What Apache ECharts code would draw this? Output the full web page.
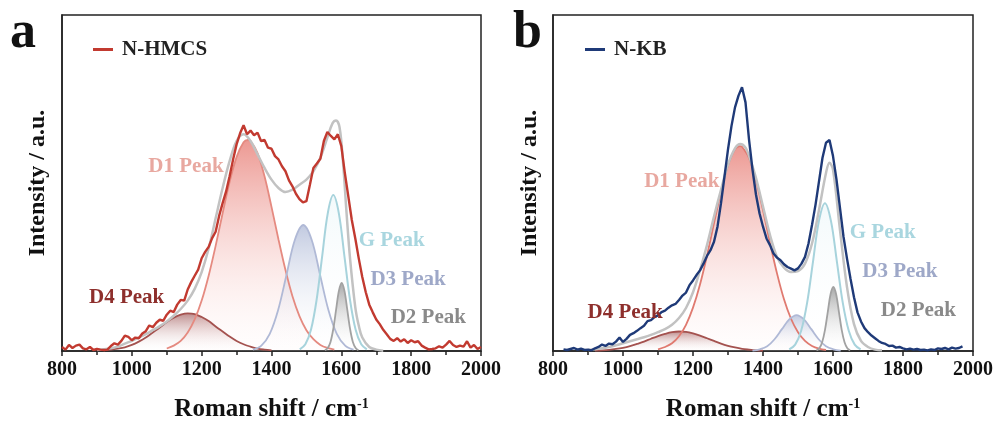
<!DOCTYPE html>
<html><head><meta charset="utf-8">
<script src="https://cdn.jsdelivr.net/npm/echarts/dist/echarts.min.js"></script>
<style>html,body{margin:0;padding:0;background:#fff}#c{width:998px;height:430px}</style>
</head><body><div id="c"></div>
<script>
// ---------- tick labels ----------
const xTicks = [800, 1000, 1200, 1400, 1600, 1800, 2000];

// ---------- panel a : N-HMCS ----------
const rawA = [[800,1.2],[810,0.4],[820,1.8],[830,0.9],[840,1.6],[850,1.9],[860,0.8],[870,0.5],[880,1.2],[890,0.3],
[900,0.6],[910,0.4],[920,0.3],[930,0.4],[940,1.5],[950,2.3],[960,1.9],[970,3.0],[980,4.6],[990,4.2],
[1000,3.2],[1010,4.0],[1020,3.8],[1030,5.2],[1040,5.9],[1050,7.6],[1060,7.1],[1070,8.4],[1080,9.3],[1090,9.0],
[1100,10.8],[1110,12.0],[1120,11.6],[1130,13.8],[1140,15.2],[1150,15.0],[1160,18.3],[1170,20.5],[1180,22.4],[1190,24.2],
[1200,27.6],[1210,29.5],[1220,31.0],[1230,33.6],[1240,35.5],[1250,40.2],[1260,44.0],[1270,47.5],[1280,52.0],[1290,57.0],
[1300,61.5],[1310,64.8],[1320,67.2],[1330,64.5],[1340,65.6],[1350,64.2],[1360,65.0],[1370,62.5],[1380,62.8],[1390,60.5],
[1400,60.2],[1410,58.0],[1420,57.0],[1430,55.0],[1440,53.5],[1450,50.8],[1460,49.0],[1470,46.8],[1480,45.2],[1490,44.2],
[1500,44.6],[1510,49.5],[1520,54.5],[1530,55.8],[1540,57.2],[1550,62.5],[1560,65.2],[1570,64.0],[1580,63.0],[1590,64.5],
[1600,61.0],[1610,53.0],[1620,46.0],[1630,39.0],[1640,33.5],[1650,27.5],[1660,22.0],[1670,17.5],[1680,13.8],[1690,11.5],
[1700,9.4],[1710,8.0],[1720,6.3],[1730,5.0],[1740,3.6],[1750,3.0],[1760,3.8],[1770,2.8],[1780,3.5],[1790,2.4],
[1800,3.2],[1810,2.6],[1820,2.9],[1830,1.6],[1840,1.0],[1850,0.5],[1860,0.6],[1870,0.8],[1880,1.4],[1890,1.0],
[1900,1.9],[1910,3.0],[1920,1.8],[1930,1.2],[1940,1.6],[1950,1.3],[1960,2.9],[1970,1.0],[1980,1.8],[1990,0.6],[2000,1.2]];

const fitA = [[900,0.3],[920,0.5],[940,0.8],[960,1.3],[980,2.2],[1000,3.0],[1020,4.0],[1040,5.0],[1060,6.2],[1080,7.4],
[1100,8.8],[1120,10.5],[1140,12.5],[1160,15.0],[1180,18.5],[1200,23.5],[1220,30.5],[1240,39.5],[1260,48.5],[1280,56.5],
[1300,62.5],[1320,64.5],[1340,62.5],[1360,58.5],[1380,54.5],[1400,51.0],[1420,48.5],[1440,47.3],[1460,48.0],[1480,49.5],
[1500,51.0],[1520,53.5],[1540,57.5],[1560,63.5],[1575,67.8],[1585,68.6],[1595,66.5],[1605,56.0],[1615,41.0],[1625,27.5],
[1640,13.0],[1650,7.5],[1660,4.0],[1680,1.2],[1700,0.4],[1720,0.1]];

const d4A = [[920,0.2],[940,0.4],[960,0.7],[980,1.1],[1000,1.8],[1020,2.8],[1040,4.0],[1060,5.5],[1080,7.0],[1100,8.6],
[1120,9.9],[1140,10.8],[1160,11.2],[1180,11.0],[1200,10.1],[1220,8.9],[1240,7.3],[1260,5.8],[1280,4.3],[1300,3.0],
[1320,2.0],[1340,1.3],[1360,0.7],[1380,0.4],[1400,0.2]];
const d1A = [[1100,0.75],[1120,1.6],[1140,3.0],[1160,5.5],[1180,9.4],[1200,15.0],[1220,22.4],[1240,31.3],[1260,41.0],[1280,50.3],
[1300,57.7],[1320,62.1],[1332,62.8],[1340,62.5],[1360,58.9],[1380,52.0],[1400,42.9],[1420,33.2],[1440,24.1],[1460,16.3],
[1480,10.4],[1500,6.2],[1520,3.5],[1540,1.8],[1560,0.9],[1580,0.4]];
const d3A = [[1347,0.4],[1371,1.6],[1395,5.1],[1419,12.2],[1443,22.7],[1467,33.1],[1491,37.5],[1515,33.1],[1539,22.7],[1563,12.2],[1587,5.1],[1611,1.6],[1635,0.4]];
const gA  = [[1481,0.5],[1497,2.0],[1513,6.3],[1529,15.1],[1545,28.1],[1561,40.9],[1577,46.4],[1593,40.9],[1609,28.1],[1625,15.1],[1641,6.3],[1657,2.0],[1673,0.5]];
const d2A = [[1553,0.2],[1561,0.9],[1569,2.7],[1577,6.6],[1585,12.3],[1593,17.9],[1601,20.3],[1609,17.9],[1617,12.3],[1625,6.6],[1633,2.7],[1641,0.9],[1649,0.2]];

// ---------- panel b : N-KB ----------
const rawB = [[830,0.5],[840,0.3],[850,0.6],[860,0.9],[870,0.4],[880,0.7],[890,0.3],
[900,0.4],[910,0.2],[920,0.8],[930,1.2],[940,1.9],[950,1.5],[960,2.2],[970,2.0],[980,2.8],[990,4.0],
[1000,2.7],[1010,3.6],[1020,4.8],[1030,5.3],[1040,6.0],[1050,6.8],[1060,7.5],[1070,8.9],[1080,9.2],[1090,10.1],
[1100,10.6],[1110,11.6],[1120,12.0],[1130,12.9],[1140,13.6],[1150,14.0],[1160,15.2],[1170,16.5],[1180,17.4],[1190,19.6],
[1200,21.0],[1210,22.6],[1220,24.0],[1230,26.0],[1240,28.3],[1250,30.0],[1260,32.5],[1270,37.0],[1280,44.0],[1290,52.0],
[1300,60.0],[1310,67.0],[1320,72.5],[1330,76.0],[1340,78.5],[1350,74.0],[1360,63.0],[1370,54.0],[1380,46.5],[1390,41.0],
[1400,37.0],[1410,33.5],[1420,31.5],[1430,29.0],[1440,27.8],[1450,27.0],[1460,25.8],[1470,25.0],[1480,24.5],[1490,24.0],
[1500,24.6],[1510,26.0],[1520,28.0],[1530,32.0],[1540,37.5],[1550,43.5],[1560,50.5],[1570,57.5],[1580,62.0],[1590,62.8],
[1600,58.0],[1610,51.0],[1620,42.5],[1630,34.0],[1640,27.5],[1650,21.5],[1660,16.0],[1670,11.5],[1680,8.8],[1690,6.8],
[1700,5.6],[1710,4.6],[1720,3.8],[1730,3.0],[1740,2.4],[1750,2.1],[1760,1.5],[1770,1.6],[1780,1.0],[1790,1.2],
[1800,0.8],[1810,0.5],[1820,0.7],[1830,0.4],[1840,0.6],[1850,0.3],[1860,0.4],[1870,0.2],[1880,0.5],[1890,0.3],
[1900,0.8],[1910,0.6],[1920,0.9],[1930,0.5],[1940,1.0],[1950,0.7],[1960,0.9],[1970,1.4]];

const fitB = [[900,0.3],[920,0.5],[940,0.8],[960,1.2],[980,1.7],[1000,2.3],[1020,2.9],[1040,3.5],[1060,4.1],[1080,4.8],
[1100,5.6],[1120,6.5],[1140,7.8],[1160,9.8],[1180,12.8],[1200,17.5],[1220,24.0],[1240,31.5],[1260,40.0],[1280,48.0],
[1300,55.5],[1320,60.3],[1335,61.6],[1350,60.5],[1365,56.5],[1380,51.5],[1400,43.0],[1420,34.5],[1440,28.0],[1460,24.8],
[1480,23.5],[1500,23.8],[1520,26.0],[1540,32.0],[1560,42.0],[1580,53.0],[1590,56.0],[1600,54.0],[1620,36.0],[1640,19.0],
[1660,8.0],[1680,3.0],[1700,1.2],[1720,0.4],[1740,0.2]];

const d4B = [[920,0.1],[940,0.2],[960,0.35],[980,0.6],[1000,0.95],[1020,1.45],[1040,2.1],[1060,2.8],[1080,3.65],[1100,4.45],
[1120,5.1],[1140,5.6],[1160,5.8],[1180,5.7],[1200,5.25],[1220,4.6],[1240,3.8],[1260,3.0],[1280,2.2],[1300,1.55],
[1320,1.05],[1340,0.65],[1360,0.4],[1380,0.2],[1400,0.1]];
const d1B = [[1100,0.5],[1120,1.2],[1140,2.3],[1160,4.4],[1180,7.8],[1200,12.9],[1220,19.8],[1240,28.4],[1260,38.0],[1280,47.4],
[1300,55.2],[1320,60.0],[1334,61.0],[1340,60.8],[1360,57.5],[1380,50.8],[1400,41.9],[1420,32.2],[1440,23.1],[1460,15.4],
[1480,9.6],[1500,5.6],[1520,3.0],[1540,1.5],[1560,0.7],[1580,0.3]];
const d3B = [[1370,0.1],[1391,0.5],[1412,1.4],[1433,3.5],[1454,6.5],[1475,9.4],[1496,10.7],[1517,9.4],[1538,6.5],[1559,3.5],[1580,1.4],[1601,0.5],[1622,0.1]];
const gB  = [[1475,0.5],[1492,1.9],[1509,6.0],[1526,14.3],[1543,26.7],[1560,38.8],[1577,44.0],[1594,38.8],[1611,26.7],[1628,14.3],[1645,6.0],[1662,1.9],[1679,0.5]];
const d2B = [[1553,0.2],[1561,0.8],[1569,2.6],[1577,6.2],[1585,11.6],[1593,16.9],[1601,19.1],[1609,16.9],[1617,11.6],[1625,6.2],[1633,2.6],[1641,0.8],[1649,0.2]];

// ---------- label anchor points (data coords) ----------
const labelPosA = {D4:[985,16.0], D1:[1155,54.8], G:[1744,33.0], D3:[1791,21.4], D2:[1849,9.8]};
const labelPosB = {D4:[1006,11.4], D1:[1168,50.4], G:[1742,35.3], D3:[1791,23.6], D2:[1844,12.0]};

const FONT = '"Times New Roman", "Liberation Serif", serif';
const chart = echarts.init(document.getElementById('c'));

function grad(top, bottom) {
  return new echarts.graphic.LinearGradient(0, 0, 0, 1, [{offset: 0, color: top}, {offset: 1, color: bottom}]);
}
function peak(idx, name, data, line, top, bottom, labelText, labelColor, pos, lw) {
  return {
    type: 'line', name: name, xAxisIndex: idx, yAxisIndex: idx, data: data,
    smooth: 0.35, showSymbol: false, symbol: 'none', silent: true,
    lineStyle: {color: line, width: lw || 1.8},
    areaStyle: {color: grad(top, bottom), origin: 'start'},
    markPoint: {
      symbol: 'circle', symbolSize: 0, silent: true,
      data: [{coord: pos}],
      label: {show: true, position: 'inside', formatter: labelText, color: labelColor,
              fontSize: 21, fontWeight: 'bold', fontFamily: FONT}
    }
  };
}
function panelSeries(idx, raw, fit, d4, d1, d3, g, d2, pos, rawName, rawColor, d1Line) {
  return [
    peak(idx, 'D4', d4, '#a4524f', 'rgba(135,45,45,0.78)', 'rgba(255,255,255,0.05)', 'D4 Peak', '#8e2f2c', pos.D4),
    peak(idx, 'D1', d1, d1Line, 'rgba(226,96,86,0.92)', 'rgba(255,240,240,0.15)', 'D1 Peak', '#e8a8a0', pos.D1),
    peak(idx, 'D3', d3, '#b0b9d6', 'rgba(145,160,200,0.8)', 'rgba(255,255,255,0.05)', 'D3 Peak', '#9ea8c8', pos.D3),
    peak(idx, 'G', g, '#a7d3dc', 'rgba(205,232,238,0.35)', 'rgba(255,255,255,0)', 'G Peak', '#a9d6df', pos.G, 2),
    peak(idx, 'D2', d2, '#a2a2a2', 'rgba(110,110,110,0.85)', 'rgba(255,255,255,0.05)', 'D2 Peak', '#8a8a8a', pos.D2),
    {type: 'line', name: 'fit', xAxisIndex: idx, yAxisIndex: idx, data: fit, smooth: 0.35, showSymbol: false,
     symbol: 'none', silent: true, lineStyle: {color: '#c2c2c2', width: 2.5}},
    {type: 'line', name: rawName, xAxisIndex: idx, yAxisIndex: idx, data: raw, smooth: false, showSymbol: false,
     symbol: 'none', silent: true, itemStyle: {color: rawColor}, lineStyle: {color: rawColor, width: 2.4}}
  ];
}
function xAx(idx) {
  return {
    type: 'value', gridIndex: idx, min: xTicks[0], max: xTicks[xTicks.length - 1], interval: 200,
    axisLine: {show: true, onZero: false, lineStyle: {color: '#222', width: 1.5}},
    axisTick: {show: true, inside: false, length: 5, lineStyle: {color: '#222', width: 1.5}},
    minorTick: {show: true, splitNumber: 2, length: 4, lineStyle: {color: '#222', width: 1.5}},
    splitLine: {show: false}, minorSplitLine: {show: false},
    axisLabel: {fontSize: 20, fontWeight: 'bold', color: '#111', fontFamily: FONT, margin: 9,
                showMinLabel: true, showMaxLabel: true, formatter: function (v) { return String(v); }},
    name: 'Roman shift / cm{s|-1}', nameLocation: 'middle', nameGap: 46,
    nameTextStyle: {fontSize: 25, fontWeight: 'bold', color: '#111', fontFamily: FONT,
      rich: {s: {fontSize: 14, fontWeight: 'bold', color: '#111', fontFamily: FONT, verticalAlign: 'top', padding: [0, 0, 12, 0]}}}
  };
}
function yAx(idx, gap) {
  return {
    type: 'value', gridIndex: idx, min: 0, max: 100,
    axisLine: {show: true, lineStyle: {color: '#222', width: 1.5}},
    axisTick: {show: false}, axisLabel: {show: false}, splitLine: {show: false},
    name: 'Intensity / a.u.', nameLocation: 'middle', nameGap: gap,
    nameTextStyle: {fontSize: 24, fontWeight: 'bold', color: '#111', fontFamily: FONT}
  };
}

chart.setOption({
  animation: false,
  backgroundColor: '#fff',
  grid: [
    {left: 62, top: 15, width: 419, height: 336, show: true, borderColor: '#222', borderWidth: 1.5, backgroundColor: 'transparent'},
    {left: 553, top: 15, width: 420, height: 336, show: true, borderColor: '#222', borderWidth: 1.5, backgroundColor: 'transparent'}
  ],
  xAxis: [xAx(0), xAx(1)],
  yAxis: [yAx(0, 12), yAx(1, 11)],
  legend: [
    {data: ['N-HMCS'], left: 88, top: 34, icon: 'rect', itemWidth: 20, itemHeight: 3, selectedMode: false,
     textStyle: {fontSize: 21, fontWeight: 'bold', color: '#222', fontFamily: FONT, padding: [0, 0, 0, 4]}},
    {data: ['N-KB'], left: 580, top: 34, icon: 'rect', itemWidth: 20, itemHeight: 3, selectedMode: false,
     textStyle: {fontSize: 21, fontWeight: 'bold', color: '#222', fontFamily: FONT, padding: [0, 0, 0, 4]}}
  ],
  graphic: [
    {type: 'text', left: 10, top: 8, style: {text: 'a', font: 'bold 52px ' + FONT, fill: '#111'}},
    {type: 'text', left: 513, top: 8, style: {text: 'b', font: 'bold 52px ' + FONT, fill: '#111'}}
  ],
  series: [].concat(
    panelSeries(0, rawA, fitA, d4A, d1A, d3A, gA, d2A, labelPosA, 'N-HMCS', '#c23a30', '#e58a80'),
    panelSeries(1, rawB, fitB, d4B, d1B, d3B, gB, d2B, labelPosB, 'N-KB', '#1f3a78', '#e07a70')
  )
});
</script>
</body></html>
